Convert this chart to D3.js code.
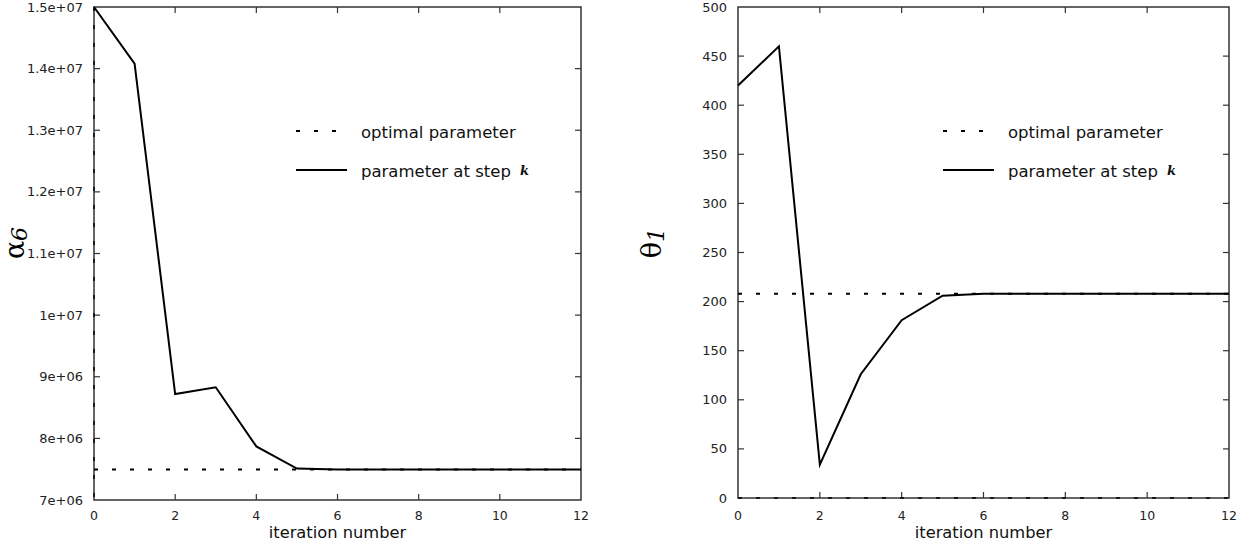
<!DOCTYPE html>
<html><head><meta charset="utf-8">
<script src="https://cdn.jsdelivr.net/npm/d3@7"></script>
<style>
body{margin:0;background:#fff;}
svg{display:block;font-family:"DejaVu Sans",sans-serif;}
</style></head>
<body><svg id="c" width="1245" height="546"></svg>
<script>
const iterations = [0,1,2,3,4,5,6,7,8,9,10,11,12];
const alphaValues = [1.5e7,1.408e7,8.72e6,8.83e6,7.87e6,7.51e6,7.495e6,7.495e6,7.495e6,7.495e6,7.495e6,7.495e6,7.495e6];
const alphaOptimal = 7.495e6;
const alphaTicks = [7e6,8e6,9e6,1e7,1.1e7,1.2e7,1.3e7,1.4e7,1.5e7];
const alphaTickLabels = ["7e+06","8e+06","9e+06","1e+07","1.1e+07","1.2e+07","1.3e+07","1.4e+07","1.5e+07"];
const thetaValues = [420,460,34,126,181,206,208,208,208,208,208,208,208];
const thetaOptimal = 208;
const thetaTicks = [0,50,100,150,200,250,300,350,400,450,500];
const xTicks = [0,2,4,6,8,10,12];
const legendLabels = ["optimal parameter","parameter at step"];

const svg = d3.select("#c");

function panel(cfg){
  const g = svg.append("g");
  const x = d3.scaleLinear().domain([0,12]).range([cfg.x0,cfg.x1]);
  const y = d3.scaleLinear().domain(cfg.ydom).range([cfg.y1,cfg.y0]);
  const axCol = "#333";
  const tl = 6;
  xTicks.forEach(t=>{
    if(t>0 && t<12){
      g.append("line").attr("x1",x(t)).attr("x2",x(t)).attr("y1",cfg.y1).attr("y2",cfg.y1-tl).attr("stroke",axCol).attr("stroke-width",1.2);
      g.append("line").attr("x1",x(t)).attr("x2",x(t)).attr("y1",cfg.y0).attr("y2",cfg.y0+tl).attr("stroke",axCol).attr("stroke-width",1.2);
    }
    g.append("text").attr("x",x(t)).attr("y",520).attr("text-anchor","middle").attr("font-size",12.5).attr("fill","#222").text(t);
  });
  cfg.yticks.forEach((t,i)=>{
    if(t>cfg.ydom[0] && t<cfg.ydom[1]){
      g.append("line").attr("x1",cfg.x0).attr("x2",cfg.x0+tl).attr("y1",y(t)).attr("y2",y(t)).attr("stroke",axCol).attr("stroke-width",1.2);
      g.append("line").attr("x1",cfg.x1).attr("x2",cfg.x1-tl).attr("y1",y(t)).attr("y2",y(t)).attr("stroke",axCol).attr("stroke-width",1.2);
    }
    g.append("text").attr("x",cfg.x0-11).attr("y",y(t)+4.5).attr("text-anchor","end").attr("font-size",13).attr("fill","#222").text(cfg.ylabels[i]);
  });
  g.append("rect").attr("x",cfg.x0).attr("y",cfg.y0).attr("width",cfg.x1-cfg.x0).attr("height",cfg.y1-cfg.y0)
    .attr("fill","none").attr("stroke",axCol).attr("stroke-width",1.5);
  // zero axis (dashed)
  if(cfg.zeroV){
    g.append("line").attr("x1",x(0)).attr("x2",x(0)).attr("y1",cfg.y0).attr("y2",cfg.y1).attr("stroke","#000").attr("stroke-width",1.5).attr("stroke-dasharray","4,14");
  } else {
    g.append("line").attr("x1",cfg.x0).attr("x2",cfg.x1).attr("y1",y(0)).attr("y2",y(0)).attr("stroke","#000").attr("stroke-width",1.5).attr("stroke-dasharray","4,14");
  }
  // optimal dashed
  g.append("line").attr("x1",x(0)).attr("x2",x(12)).attr("y1",y(cfg.opt)).attr("y2",y(cfg.opt))
    .attr("stroke","#000").attr("stroke-width",2).attr("stroke-dasharray","4,14");
  // series
  const line = d3.line().x((d,i)=>x(iterations[i])).y(d=>y(d));
  g.append("path").datum(cfg.vals).attr("d",line).attr("fill","none").attr("stroke","#000").attr("stroke-width",2).attr("stroke-linejoin","miter");
  // legend
  const lx = cfg.lx;
  g.append("line").attr("x1",lx).attr("x2",lx+41).attr("y1",131).attr("y2",131).attr("stroke","#000").attr("stroke-width",2).attr("stroke-dasharray","4,14");
  g.append("line").attr("x1",lx).attr("x2",lx+51).attr("y1",170).attr("y2",170).attr("stroke","#000").attr("stroke-width",2);
  g.append("text").attr("x",lx+65).attr("y",138).attr("font-size",16.5).attr("fill","#111").text(legendLabels[0]);
  const t2 = g.append("text").attr("x",lx+65).attr("y",177).attr("font-size",16.5).attr("fill","#111");
  t2.append("tspan").text(legendLabels[1]);
  t2.append("tspan").attr("dx",9).attr("dy",-2).attr("font-family","'DejaVu Serif',serif").attr("font-style","italic").attr("font-weight","bold").attr("font-size",13).text("k");
  // x label
  g.append("text").attr("x",(cfg.x0+cfg.x1)/2).attr("y",538).attr("text-anchor","middle").attr("font-size",16.3).attr("fill","#111").text("iteration number");
  // y label
  const yl = g.append("text").attr("transform",`translate(${cfg.ylx},${cfg.yly}) rotate(-90)`).attr("text-anchor","middle")
    .attr("font-family","'DejaVu Serif',serif").attr("font-size",27).attr("fill","#000");
  yl.append("tspan").text(cfg.ysym);
  yl.append("tspan").attr("dy",3).attr("font-size",22).attr("font-style","italic").text(cfg.ysub);
}

panel({x0:94,x1:581,y0:7,y1:500,ydom:[7e6,1.5e7],yticks:alphaTicks,ylabels:alphaTickLabels,vals:alphaValues,opt:alphaOptimal,zeroV:true,lx:296,ylx:24,yly:243,ysym:"α",ysub:"6"});
panel({x0:738,x1:1229,y0:7,y1:498,ydom:[0,500],yticks:thetaTicks,ylabels:thetaTicks.map(String),vals:thetaValues,opt:thetaOptimal,zeroV:false,lx:943,ylx:661,yly:243,ysym:"θ",ysub:"1"});
</script></body></html>
